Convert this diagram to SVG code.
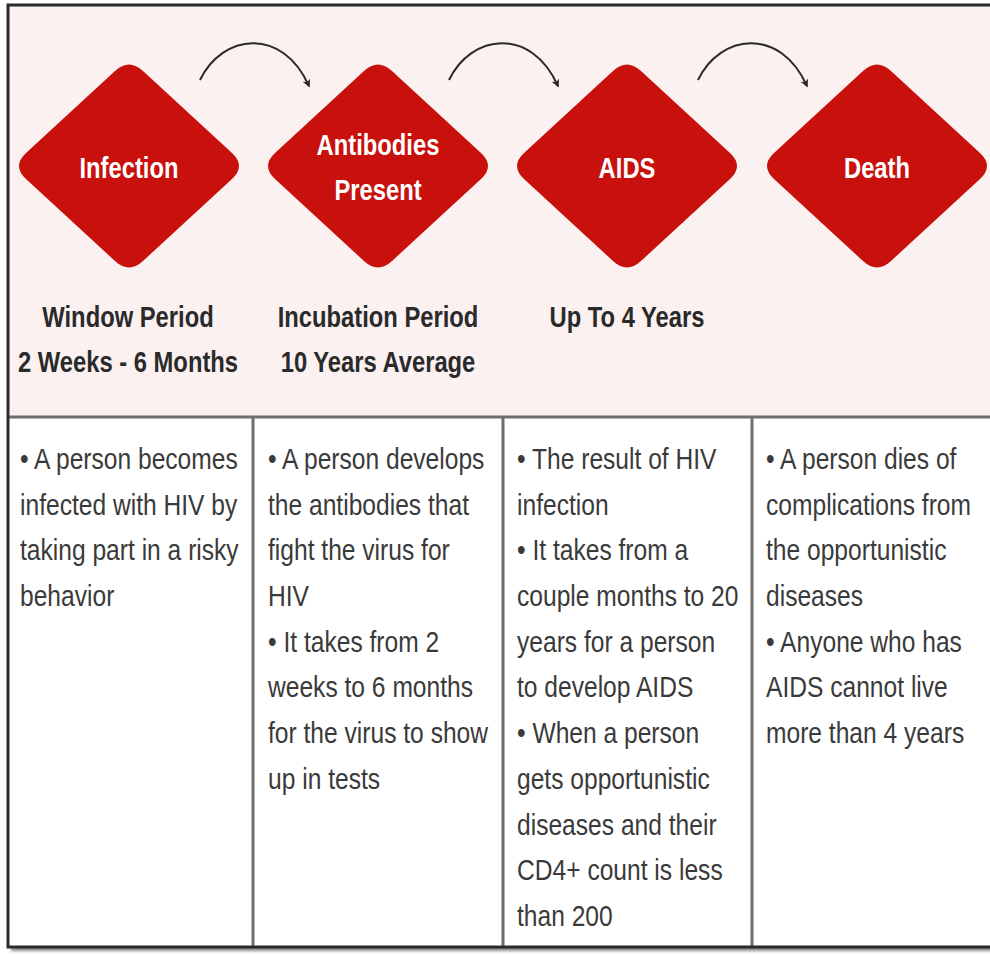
<svg xmlns="http://www.w3.org/2000/svg" width="990" height="954" viewBox="0 0 990 954">
<defs>
<style>
.hdr{font-family:"Liberation Sans",sans-serif;font-weight:bold;font-size:29px;fill:#2a2a2a;text-anchor:middle}
.lbl{font-family:"Liberation Sans",sans-serif;font-weight:bold;font-size:29px;fill:#ffffff;text-anchor:middle}
.body{font-family:"Liberation Sans",sans-serif;font-size:30px;fill:#3a3a3a}
.div{stroke:#6e6e6e;stroke-width:3;fill:none}
.arc{stroke:#2a2a2a;stroke-width:2;fill:none}
.dia{fill:#c8100c}
</style>
<path id="diamond" d="M -103,-13 L -14,-95 Q 0,-108 14,-95 L 103,-13 Q 117,0 103,13 L 14,95 Q 0,108 -14,95 L -103,13 Q -117,0 -103,-13 Z"/>
<marker id="ah" viewBox="0 0 10 10" refX="8" refY="5" markerWidth="8" markerHeight="8" orient="auto" markerUnits="userSpaceOnUse">
<path d="M0,0 L10,5 L0,10 L3,5 Z" fill="#2a2a2a"/>
</marker>
<filter id="sh" x="-5%" y="-5%" width="110%" height="110%"><feGaussianBlur stdDeviation="1.5"/></filter>
</defs>
<rect x="0" y="0" width="990" height="954" fill="#ffffff"/>
<g id="frame">
<rect x="11" y="8" width="990" height="943" fill="#8a8a8a" filter="url(#sh)"/>
<rect x="8" y="5" width="990" height="942" fill="#ffffff"/>
<rect x="8" y="5" width="990" height="412" fill="#fbf1f1"/>
<line class="div" x1="8" y1="417" x2="990" y2="417"/>
<line class="div" x1="253" y1="417" x2="253" y2="947"/>
<line class="div" x1="503" y1="417" x2="503" y2="947"/>
<line class="div" x1="752" y1="417" x2="752" y2="947"/>
<rect x="8" y="5" width="990" height="942" fill="none" stroke="#2a2a2a" stroke-width="3"/>
</g>
<g id="connectors">
<path class="arc" d="M200,80 C222,34 282,26 309,86" marker-end="url(#ah)"/>
<path class="arc" d="M449,80 C471,34 531,26 558,86" marker-end="url(#ah)"/>
<path class="arc" d="M698,80 C720,34 780,26 807,86" marker-end="url(#ah)"/>
</g>
<g id="node-infection">
<use href="#diamond" class="dia" transform="translate(129,166)"/>
<text class="lbl" transform="translate(129,178) scale(0.82,1)" x="0" y="0">Infection</text>
</g>
<g id="node-antibodies">
<use href="#diamond" class="dia" transform="translate(378,166)"/>
<text class="lbl" transform="translate(378,155) scale(0.82,1)" x="0" y="0">Antibodies</text>
<text class="lbl" transform="translate(378,200) scale(0.82,1)" x="0" y="0">Present</text>
</g>
<g id="node-aids">
<use href="#diamond" class="dia" transform="translate(627,166)"/>
<text class="lbl" transform="translate(627,178) scale(0.82,1)" x="0" y="0">AIDS</text>
</g>
<g id="node-death">
<use href="#diamond" class="dia" transform="translate(877,166)"/>
<text class="lbl" transform="translate(877,178) scale(0.82,1)" x="0" y="0">Death</text>
</g>
<g id="periods">
<text class="hdr" transform="translate(128,327) scale(0.82,1)" x="0" y="0">Window Period</text>
<text class="hdr" transform="translate(128,372) scale(0.82,1)" x="0" y="0">2 Weeks - 6 Months</text>
<text class="hdr" transform="translate(378,327) scale(0.82,1)" x="0" y="0">Incubation Period</text>
<text class="hdr" transform="translate(378,372) scale(0.82,1)" x="0" y="0">10 Years Average</text>
<text class="hdr" transform="translate(627,327) scale(0.82,1)" x="0" y="0">Up To 4 Years</text>
</g>
<g id="col-infection" transform="translate(20,469) scale(0.82,1)">
<text class="body" x="0" y="0"><tspan x="0">• A person becomes</tspan><tspan x="0" dy="45.7">infected with HIV by</tspan><tspan x="0" dy="45.7">taking part in a risky</tspan><tspan x="0" dy="45.7">behavior</tspan></text>
</g>
<g id="col-antibodies" transform="translate(268,469) scale(0.82,1)">
<text class="body" x="0" y="0"><tspan x="0">• A person develops</tspan><tspan x="0" dy="45.7">the antibodies that</tspan><tspan x="0" dy="45.7">fight the virus for</tspan><tspan x="0" dy="45.7">HIV</tspan><tspan x="0" dy="45.7">• It takes from 2</tspan><tspan x="0" dy="45.7">weeks to 6 months</tspan><tspan x="0" dy="45.7">for the virus to show</tspan><tspan x="0" dy="45.7">up in tests</tspan></text>
</g>
<g id="col-aids" transform="translate(517,469) scale(0.82,1)">
<text class="body" x="0" y="0"><tspan x="0">• The result of HIV</tspan><tspan x="0" dy="45.7">infection</tspan><tspan x="0" dy="45.7">• It takes from a</tspan><tspan x="0" dy="45.7">couple months to 20</tspan><tspan x="0" dy="45.7">years for a person</tspan><tspan x="0" dy="45.7">to develop AIDS</tspan><tspan x="0" dy="45.7">• When a person</tspan><tspan x="0" dy="45.7">gets opportunistic</tspan><tspan x="0" dy="45.7">diseases and their</tspan><tspan x="0" dy="45.7">CD4+ count is less</tspan><tspan x="0" dy="45.7">than 200</tspan></text>
</g>
<g id="col-death" transform="translate(766,469) scale(0.82,1)">
<text class="body" x="0" y="0"><tspan x="0">• A person dies of</tspan><tspan x="0" dy="45.7">complications from</tspan><tspan x="0" dy="45.7">the opportunistic</tspan><tspan x="0" dy="45.7">diseases</tspan><tspan x="0" dy="45.7">• Anyone who has</tspan><tspan x="0" dy="45.7">AIDS cannot live</tspan><tspan x="0" dy="45.7">more than 4 years</tspan></text>
</g>
</svg>
